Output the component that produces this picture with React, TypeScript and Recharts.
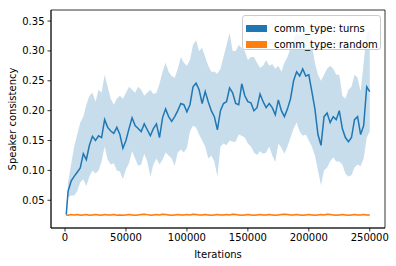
import { Area, ComposedChart, Legend, Line, ReferenceArea, XAxis, YAxis } from 'recharts'

const iterations = [
  1000, 2500, 5000, 7500, 10000, 12500, 15000, 17500, 20000, 22500,
  25000, 27500, 30000, 32500, 35000, 37500, 40000, 42500, 45000, 47500,
  50000, 52500, 55000, 57500, 60000, 62500, 65000, 67500, 70000, 72500,
  75000, 77500, 80000, 82500, 85000, 87500, 90000, 92500, 95000, 97500,
  100000, 102500, 105000, 107500, 110000, 112500, 115000, 117500, 120000, 122500,
  125000, 127500, 130000, 132500, 135000, 137500, 140000, 142500, 145000, 147500,
  150000, 152500, 155000, 157500, 160000, 162500, 165000, 167500, 170000, 172500,
  175000, 177500, 180000, 182500, 185000, 187500, 190000, 192500, 195000, 197500,
  200000, 202500, 205000, 207500, 210000, 212500, 215000, 217500, 220000, 222500,
  225000, 227500, 230000, 232500, 235000, 237500, 240000, 242500, 245000, 247500,
  250000,
]

const turnsMean = [
  0.026, 0.065, 0.082, 0.09, 0.097, 0.104, 0.128, 0.118, 0.142, 0.157,
  0.15, 0.158, 0.155, 0.185, 0.172, 0.166, 0.162, 0.172, 0.16, 0.137,
  0.15, 0.17, 0.188, 0.175, 0.17, 0.165, 0.178, 0.168, 0.158, 0.17,
  0.178, 0.155, 0.188, 0.203, 0.19, 0.182, 0.19, 0.2, 0.212, 0.21,
  0.198, 0.21, 0.24, 0.246, 0.235, 0.212, 0.232, 0.215, 0.2, 0.19,
  0.168, 0.2, 0.212, 0.215, 0.238, 0.23, 0.212, 0.21, 0.245, 0.225,
  0.215, 0.213, 0.2, 0.205, 0.228, 0.215, 0.205, 0.212, 0.205, 0.193,
  0.218, 0.2, 0.19, 0.203, 0.22, 0.25, 0.265, 0.258, 0.27, 0.258,
  0.26, 0.232, 0.203, 0.16, 0.142, 0.19, 0.196, 0.18, 0.19, 0.185,
  0.2, 0.17, 0.155, 0.148, 0.155, 0.185, 0.19, 0.16, 0.175, 0.24,
  0.232,
]

const turnsLow = [
  0.026, 0.055, 0.058, 0.058, 0.065, 0.08, 0.085, 0.074, 0.09, 0.1,
  0.095, 0.1, 0.115, 0.14, 0.118, 0.11, 0.112, 0.1, 0.098, 0.085,
  0.102, 0.112, 0.132, 0.12, 0.108, 0.11, 0.128, 0.115, 0.09, 0.11,
  0.12, 0.11, 0.118, 0.13, 0.125, 0.12, 0.108, 0.13, 0.135, 0.13,
  0.138, 0.165, 0.175, 0.172, 0.16, 0.15, 0.14, 0.12, 0.125, 0.115,
  0.09, 0.14, 0.145, 0.142, 0.15, 0.148, 0.148, 0.16, 0.158, 0.155,
  0.145, 0.14, 0.13, 0.126, 0.132, 0.128, 0.13, 0.14, 0.125, 0.114,
  0.145, 0.138, 0.128, 0.14, 0.155, 0.17, 0.18, 0.165, 0.158, 0.16,
  0.15, 0.14, 0.125, 0.1, 0.075, 0.1, 0.105, 0.115, 0.122, 0.115,
  0.115, 0.11, 0.095, 0.09, 0.092, 0.105, 0.11, 0.107, 0.12, 0.155,
  0.165,
]

const turnsHigh = [
  0.026, 0.08, 0.11, 0.14, 0.16, 0.18, 0.19, 0.21, 0.225, 0.23,
  0.215, 0.235, 0.23, 0.26, 0.24, 0.22, 0.21, 0.22, 0.225, 0.22,
  0.23, 0.24, 0.235, 0.23, 0.24, 0.235, 0.225, 0.23, 0.235, 0.228,
  0.23, 0.245, 0.265, 0.28, 0.265, 0.258, 0.255, 0.27, 0.29, 0.28,
  0.275, 0.285, 0.31, 0.318, 0.3, 0.305, 0.29, 0.275, 0.265, 0.265,
  0.262, 0.27, 0.29, 0.31, 0.33, 0.3, 0.3, 0.31, 0.305, 0.3,
  0.285, 0.29, 0.29, 0.28, 0.272, 0.275, 0.285, 0.275, 0.278, 0.27,
  0.275, 0.265, 0.28, 0.29, 0.305, 0.32, 0.33, 0.325, 0.33, 0.33,
  0.32, 0.31, 0.28, 0.26, 0.25, 0.26, 0.27, 0.275, 0.27, 0.26,
  0.26, 0.225, 0.22, 0.235, 0.24, 0.26, 0.255, 0.232, 0.28, 0.33,
  0.335,
]

const randomMean = [
  0.025, 0.025, 0.026, 0.0255, 0.026, 0.025, 0.0255, 0.026, 0.025, 0.0255,
  0.026, 0.0255, 0.025, 0.026, 0.0255, 0.0255, 0.026, 0.025, 0.0255, 0.025,
  0.0255, 0.026, 0.0255, 0.025, 0.0255, 0.026, 0.0265, 0.026, 0.025, 0.0255,
  0.026, 0.0255, 0.0265, 0.026, 0.0255, 0.025, 0.0255, 0.026, 0.0255, 0.0255,
  0.026, 0.0255, 0.0265, 0.026, 0.0255, 0.0255, 0.026, 0.0255, 0.025, 0.0255,
  0.026, 0.0255, 0.0255, 0.026, 0.0255, 0.0265, 0.026, 0.0255, 0.025, 0.0255,
  0.026, 0.0255, 0.025, 0.0255, 0.026, 0.0255, 0.0255, 0.026, 0.0255, 0.025,
  0.0255, 0.026, 0.0265, 0.026, 0.0255, 0.0255, 0.026, 0.0255, 0.025, 0.0255,
  0.026, 0.0255, 0.025, 0.0255, 0.026, 0.0255, 0.0265, 0.026, 0.0255, 0.025,
  0.0255, 0.026, 0.0255, 0.025, 0.0255, 0.026, 0.0255, 0.0255, 0.026, 0.0255,
  0.0255,
]

const randomLow = [
  0.0235, 0.0235, 0.0245, 0.024, 0.0245, 0.0235, 0.024, 0.0245, 0.0235, 0.024,
  0.0245, 0.024, 0.0235, 0.0245, 0.024, 0.024, 0.0245, 0.0235, 0.024, 0.0235,
  0.024, 0.0245, 0.024, 0.0235, 0.024, 0.0245, 0.025, 0.0245, 0.0235, 0.024,
  0.0245, 0.024, 0.025, 0.0245, 0.024, 0.0235, 0.024, 0.0245, 0.024, 0.024,
  0.0245, 0.024, 0.025, 0.0245, 0.024, 0.024, 0.0245, 0.024, 0.0235, 0.024,
  0.0245, 0.024, 0.024, 0.0245, 0.024, 0.025, 0.0245, 0.024, 0.0235, 0.024,
  0.0245, 0.024, 0.0235, 0.024, 0.0245, 0.024, 0.024, 0.0245, 0.024, 0.0235,
  0.024, 0.0245, 0.025, 0.0245, 0.024, 0.024, 0.0245, 0.024, 0.0235, 0.024,
  0.0245, 0.024, 0.0235, 0.024, 0.0245, 0.024, 0.025, 0.0245, 0.024, 0.0235,
  0.024, 0.0245, 0.024, 0.0235, 0.024, 0.0245, 0.024, 0.024, 0.0245, 0.024,
  0.024,
]

const randomHigh = [
  0.0265, 0.0265, 0.0275, 0.027, 0.0275, 0.0265, 0.027, 0.0275, 0.0265, 0.027,
  0.0275, 0.027, 0.0265, 0.0275, 0.027, 0.027, 0.0275, 0.0265, 0.027, 0.0265,
  0.027, 0.0275, 0.027, 0.0265, 0.027, 0.0275, 0.028, 0.0275, 0.0265, 0.027,
  0.0275, 0.027, 0.028, 0.0275, 0.027, 0.0265, 0.027, 0.0275, 0.027, 0.027,
  0.0275, 0.027, 0.028, 0.0275, 0.027, 0.027, 0.0275, 0.027, 0.0265, 0.027,
  0.0275, 0.027, 0.027, 0.0275, 0.027, 0.028, 0.0275, 0.027, 0.0265, 0.027,
  0.0275, 0.027, 0.0265, 0.027, 0.0275, 0.027, 0.027, 0.0275, 0.027, 0.0265,
  0.027, 0.0275, 0.028, 0.0275, 0.027, 0.027, 0.0275, 0.027, 0.0265, 0.027,
  0.0275, 0.027, 0.0265, 0.027, 0.0275, 0.027, 0.028, 0.0275, 0.027, 0.0265,
  0.027, 0.0275, 0.027, 0.0265, 0.027, 0.0275, 0.027, 0.027, 0.0275, 0.027,
  0.027,
]

const xTicks = [0, 50000, 100000, 150000, 200000, 250000]
const yTicks = [0.05, 0.1, 0.15, 0.2, 0.25, 0.3, 0.35]
const seriesNames = ['comm_type: turns', 'comm_type: random']
const seriesColors = ['#1f77b4', '#ff7f0e']

const xDomain = [-11500, 262500]
const yDomain = [0.0036, 0.3685]

const rows = iterations.map((it, i) => ({
  it,
  turns: turnsMean[i],
  turnsBand: [turnsLow[i], turnsHigh[i]],
  random: randomMean[i],
  randomBand: [randomLow[i], randomHigh[i]],
}))

const font = '"DejaVu Sans", sans-serif'
const tickStyle = { fontSize: 10, fill: '#000', fontFamily: font }

function LegendBox() {
  return (
    <div
      style={{
        boxSizing: 'border-box',
        width: 139,
        height: 35,
        border: '1px solid #cccccc',
        borderRadius: 3,
        background: 'rgba(255,255,255,0.8)',
        fontFamily: font,
        fontSize: 10,
        color: '#000',
        padding: '4px 0 0 3px',
      }}
    >
      {seriesNames.map((name, i) => (
        <div key={name} style={{ display: 'flex', alignItems: 'center', height: 16.5 }}>
          <span style={{ display: 'inline-block', width: 21, height: 7, background: seriesColors[i], marginRight: 7 }} />
          <span>{name}</span>
        </div>
      ))}
    </div>
  )
}

export default function App() {
  return (
    <div style={{ position: 'absolute', left: 0, top: 0, width: 396, height: 266, background: '#fff' }}>
      <ComposedChart width={396} height={266} data={rows} margin={{ top: 10, right: 11, bottom: 0, left: 0 }}>
        <XAxis
          dataKey="it"
          type="number"
          domain={xDomain}
          ticks={xTicks}
          allowDataOverflow
          height={38}
          tick={tickStyle}
          tickSize={3.5}
          tickMargin={2}
          tickLine={{ stroke: '#000', strokeWidth: 0.8 }}
          axisLine={{ stroke: '#000', strokeWidth: 0.8 }}
          label={{ value: 'Iterations', position: 'insideBottom', offset: 8, style: { fontSize: 10, fill: '#000', fontFamily: font } }}
        />
        <YAxis
          type="number"
          domain={yDomain}
          ticks={yTicks}
          allowDataOverflow
          width={51}
          tick={tickStyle}
          tickSize={3.5}
          tickMargin={3}
          tickFormatter={(v: number) => v.toFixed(2)}
          tickLine={{ stroke: '#000', strokeWidth: 0.8 }}
          axisLine={{ stroke: '#000', strokeWidth: 0.8 }}
          label={{
            value: 'Speaker consistency',
            angle: -90,
            position: 'insideLeft',
            offset: 12,
            style: { fontSize: 10, fill: '#000', fontFamily: font, textAnchor: 'middle' },
          }}
        />
        <Area dataKey="turnsBand" stroke="none" fill={seriesColors[0]} fillOpacity={0.25} isAnimationActive={false} legendType="none" />
        <Area dataKey="randomBand" stroke="none" fill={seriesColors[1]} fillOpacity={0.25} isAnimationActive={false} legendType="none" />
        <Line dataKey="turns" stroke={seriesColors[0]} strokeWidth={1.5} dot={false} isAnimationActive={false} />
        <Line dataKey="random" stroke={seriesColors[1]} strokeWidth={1.5} dot={false} isAnimationActive={false} />
        <ReferenceArea x1={xDomain[0]} x2={xDomain[1]} y1={yDomain[0]} y2={yDomain[1]} fill="none" stroke="#000" strokeWidth={0.8} />
        <Legend
          layout="vertical"
          align="center"
          verticalAlign="middle"
          content={() => <LegendBox />}
          wrapperStyle={{ position: 'absolute', left: 242, top: 15, width: 139, height: 35 }}
        />
      </ComposedChart>
    </div>
  )
}
